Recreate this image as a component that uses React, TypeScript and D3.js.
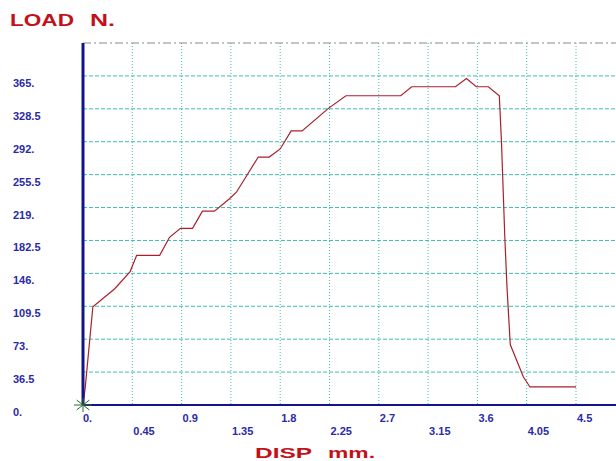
import React from 'react';
import * as d3 from 'd3';

// load vs displacement
const disp = [0, 0.02, 0.09, 0.29, 0.43, 0.49, 0.7, 0.79, 0.89, 1.0, 1.09, 1.2, 1.34, 1.4, 1.6, 1.7, 1.8, 1.9, 2.0, 2.24, 2.4, 2.9, 3.0, 3.4, 3.5, 3.59, 3.7, 3.8, 3.82, 3.85, 3.87, 3.9, 4.02, 4.08, 4.5];
const load = [0, 19, 109, 129, 148, 166, 166, 186, 196, 196, 215, 215, 229, 236, 275, 275, 284, 304, 304, 329, 343, 343, 353, 353, 362, 353, 353, 343, 291, 187, 131, 67, 31, 20, 20];

const xTicks = [0, 0.45, 0.9, 1.35, 1.8, 2.25, 2.7, 3.15, 3.6, 4.05, 4.5];
const xTickLabels = ['0.', '0.45', '0.9', '1.35', '1.8', '2.25', '2.7', '3.15', '3.6', '4.05', '4.5'];
const yTicks = [0, 36.5, 73, 109.5, 146, 182.5, 219, 255.5, 292, 328.5, 365];
const yTickLabels = ['0.', '36.5', '73.', '109.5', '146.', '182.5', '219.', '255.5', '292.', '328.5', '365.'];

const W = 616;
const H = 461;

export default function App() {
  const left = 83, right = 616, top = 43, bottom = 405;
  const x = d3.scaleLinear().domain([0, 4.5]).range([left, 576]);
  const y = d3.scaleLinear().domain([0, 401.5]).range([bottom, top]);

  const pts = disp.map((d, i) => [d, load[i]] as [number, number]);
  const line = d3.line<[number, number]>().x(d => x(d[0])).y(d => y(d[1]));

  const grid = '#3dbdb5';
  const blue = '#2a2aa8';
  const red = '#c41018';
  const font = '"Liberation Sans", Arial, sans-serif';

  const star = [0, 45, 90, 135].map(a => {
    const r = (a * Math.PI) / 180;
    return { dx: Math.cos(r) * 9, dy: Math.sin(r) * 7 };
  });

  return (
    <div style={{ position: 'absolute', left: 0, top: 0 }}>
      <svg width={W} height={H} style={{ display: 'block', background: '#fff' }}>
        {/* grid */}
        {yTicks.slice(1).map(t => (
          <line key={'h' + t} x1={left} x2={right} y1={y(t)} y2={y(t)}
            stroke={grid} strokeWidth={1} strokeDasharray="4,2" />
        ))}
        {xTicks.slice(1).map(t => (
          <line key={'v' + t} x1={x(t)} x2={x(t)} y1={top} y2={bottom}
            stroke={grid} strokeWidth={1} strokeDasharray="1,2" />
        ))}
        <line x1={left} x2={right} y1={top} y2={top} stroke="#8a8a8a" strokeWidth={1}
          strokeDasharray="8,3,2,3" />

        {/* curve */}
        <path d={line(pts) || ''} fill="none" stroke="#a8202c" strokeWidth={1.2} />

        {/* axes */}
        <line x1={left} x2={right} y1={bottom} y2={bottom} stroke="#14148a" strokeWidth={2} />
        <line x1={left} x2={left} y1={top} y2={bottom} stroke="#14148a" strokeWidth={3} />

        {/* origin marker */}
        {star.map((s, i) => (
          <line key={'s' + i} x1={left - s.dx} x2={left + s.dx} y1={bottom - s.dy} y2={bottom + s.dy}
            stroke="#2a6a2a" strokeWidth={1} />
        ))}

        {/* y labels */}
        {yTicks.map((t, i) => (
          <text key={'yl' + t} x={13} y={y(t) + 11} fill={blue} fontFamily={font}
            fontWeight="bold" fontSize={11}>{yTickLabels[i]}</text>
        ))}

        {/* x labels, alternating rows */}
        {xTicks.map((t, i) => (
          <text key={'xl' + t} x={x(t) + (i === 0 ? 0 : 1)} y={i % 2 === 0 ? 422 : 435} fill={blue}
            fontFamily={font} fontWeight="bold" fontSize={11}>{xTickLabels[i]}</text>
        ))}

        {/* titles */}
        <text x={10} y={26} fill={red} fontFamily={font} fontWeight="bold" fontSize={17}
          textLength={64} lengthAdjust="spacingAndGlyphs">LOAD</text>
        <text x={90} y={26} fill={red} fontFamily={font} fontWeight="bold" fontSize={17}
          textLength={25} lengthAdjust="spacingAndGlyphs">N.</text>
        <text x={255} y={458} fill={red} fontFamily={font} fontWeight="bold" fontSize={15}
          textLength={57} lengthAdjust="spacingAndGlyphs">DISP</text>
        <text x={328} y={458} fill={red} fontFamily={font} fontWeight="bold" fontSize={15}
          textLength={47} lengthAdjust="spacingAndGlyphs">mm.</text>
      </svg>
    </div>
  );
}
